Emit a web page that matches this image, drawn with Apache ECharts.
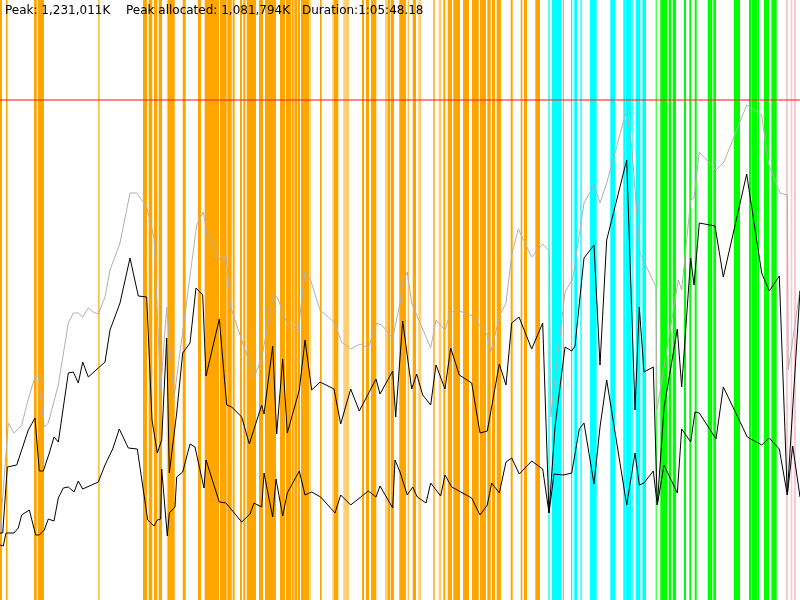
<!DOCTYPE html>
<html><head><meta charset="utf-8">
<script src="https://cdn.jsdelivr.net/npm/echarts@6/dist/echarts.min.js"></script>
<style>html,body{margin:0;padding:0;background:#fff}#c{width:800px;height:600px}</style>
</head><body><div id="c"></div>
<script>
// time in sample units (0..800), memory in scaled units (0..600)
const timeMax = 800;
const memMax = 600;
const limitLevel = 500;
const titleTexts = ["Peak: 1,231,011K", "Peak allocated: 1,081,794K", "Duration:1:05:48.18"];

const orangeBands = [[0,2],[6,7.5],[34,36.7],[37.7,44],[98.3,99.5],[143,147],[148.7,152.3],[154,157.3],[158.7,162],[168,174.7],[182.7,185.7],[198,201],[204.7,219],[220,226.7],[227.3,231.7],[232.7,234.7],[240,242],[243.3,245.3],[246.7,256],[259,263],[265,276],[280,285],[286,291],[291.7,293.7],[294.3,297],[297.7,300],[301,309],[309.7,310.5],[320,321.7],[334,338.3],[362,364],[366,369],[371,376.3],[388,390.3],[391,394],[399.3,406],[407.7,408.7],[412.7,416],[433.3,434.7],[443.3,445.3],[447.7,452],[453.3,460],[463,469],[472,478.7],[480,486],[487.3,490.7],[492,495],[496.7,501],[510.7,512.7],[520.7,522.3],[524,527],[535.3,540]];
const lightOrangeBands = [[166.7,168],[332.3,334],[343.3,349],[385,388],[418.3,421.3],[438.7,441.3]];
const cyanBands = [[548.3,549.7],[551.7,561.7],[563,564],[571,572.3],[574.3,577],[580.3,581.7],[590,596.7],[610.3,615],[623.3,625],[625.7,631],[631.7,632.7],[635.7,640.3],[642.3,646]];
const greenBands = [[655.7,656.7],[660.3,667.3],[668.7,671.3],[672.7,676],[684,686],[689.3,691.3],[694.7,696.7],[707.7,712.3],[713.3,716],[734,740],[749,751],[751.7,757.3],[758,759],[764,769],[771.3,776.7]];
const pinkBands = [[786,788],[790.7,792.3],[794,796]];

const grayMem = [[0,67],[8.3,177],[14,167],[18.3,171],[21.7,175],[28,200],[35,223],[38.3,224],[44.3,173],[48.3,177],[58.3,215],[68.3,277],[73.3,287],[78.3,287],[82.7,283],[88.3,292],[93.3,288],[98.3,286],[105,303],[110,330],[120,357],[130,407],[136.7,407],[146.7,393],[154,362],[160.7,210],[166.7,293],[174,202],[196.7,375],[203.3,388],[206.7,368],[220,340],[226,344],[230.7,293],[241.7,260],[254.3,223],[261.7,242],[273.3,305],[277.3,303],[286.7,277],[298.3,270],[305,328],[310,322],[320,290],[334,278],[341.7,258],[350.7,251],[360,256],[368.3,252],[376.7,277],[381.7,275],[392.7,262],[400,297],[402.7,318],[407.3,328],[411.7,297],[430.7,252],[436,280],[445,270],[450.7,288],[459.3,289],[472.7,284],[487.3,265],[490.7,248],[500,285],[506,297],[511.7,345],[518.3,371],[531.7,343],[542.7,356],[549.3,349],[550.7,183],[565,308],[572.7,321],[584,397],[594,415],[600,397],[606.7,417],[626.7,490],[631.7,453],[640,347],[656,313],[657,190],[678.3,320],[681.7,310],[690.7,400],[694,402],[699.3,448],[716,430],[724,438],[746.7,495],[761.7,485],[768.3,437],[780,407],[787.3,405],[788.3,230],[800,310]];

const allocMem = [[0,67],[2.7,67],[7.3,133],[16.7,135],[28.3,170],[35,182],[39.3,129],[43.3,129],[49.3,147],[54,163],[58.3,158],[68.3,227],[73.3,228],[78.3,217],[82.7,238],[88.3,223],[98.3,232],[105,238],[110,270],[120,297],[130,342],[138.3,304],[146.7,303],[152,180],[157.3,147],[161.7,160],[166.7,262],[169.3,127],[176.7,187],[182.7,247],[190,257],[196,312],[202.7,305],[206,224],[219.3,281],[226.7,195],[231.7,193],[241.7,183],[249.3,156],[261.7,195],[264,186],[272.7,254],[276.7,166],[282.7,241],[287.3,167],[299.3,210],[305,260],[311.7,210],[320,218],[334,211],[340.7,176],[350.7,211],[359.3,189],[376,221],[380,206],[392.7,229],[395.7,183],[402.7,279],[411.7,211],[416.7,226],[422.7,205],[430.7,195],[436,235],[445,211],[450.7,252],[459.3,225],[471.7,217],[480,167],[487.3,169],[499.3,236],[506,215],[511.7,277],[519,283],[531.7,251],[542.7,277],[549,87],[555,173],[565,253],[571.7,249],[575,254],[584,342],[594,355],[600,235],[606.7,360],[626.7,440],[635,190],[639.3,293],[644,228],[653.3,233],[657.3,95],[664,192],[677.3,271],[681.7,213],[690.7,342],[694,315],[699.3,377],[715,374],[723.3,323],[746.7,426],[761.7,327],[769.3,309],[779.3,324],[787.3,105],[800,309]];

const liveMem = [[0,55],[3.3,54],[6,67],[14,67],[18.3,72],[21.7,85],[29.3,90],[35.7,65],[39.3,65],[44.3,70],[48.3,81],[54,79],[58.3,102],[63.3,112],[68.3,113],[74,108],[78.3,119],[82.7,111],[98.3,118],[105,135],[112.7,151],[119.3,171],[128.3,152],[137.3,151],[147.7,80],[154,74],[157.3,80],[160.7,81],[161.7,131],[167.3,64],[169.3,87],[175,93],[176.7,123],[182.7,128],[190,156],[195,153],[200,130],[204,112],[206,140],[219.3,98],[226,97],[241.7,78],[250,86],[254,97],[261.7,93],[264,127],[272.7,83],[276,121],[282.7,84],[287.3,107],[299.3,129],[305,105],[311.7,108],[320.7,103],[335,87],[340.7,105],[350.7,95],[368.3,109],[376,103],[380,114],[392.7,92],[395,140],[400,128],[407.3,105],[412.7,113],[417.3,103],[426,97],[430.7,117],[440.7,104],[445,125],[451.7,113],[471.7,102],[480,85],[487.3,95],[491.7,117],[499.3,107],[506,138],[511.7,142],[519.3,126],[531.7,139],[542.7,131],[549,87],[554,126],[563.3,125],[571.7,127],[579.3,171],[584,177],[594,116],[600,173],[606.7,220],[626.7,95],[635,147],[639.3,115],[644,117],[653.3,129],[657.3,95],[664,135],[677.3,107],[681.7,171],[690.7,158],[695,188],[699.3,187],[716,161],[723.3,213],[747.3,163],[761.7,155],[769.3,162],[779.3,151],[787.3,105],[792.7,154],[800,103]];

function bandSeries(data, color) {
  return {
    type: 'custom', silent: true, z: 1,
    data: data,
    renderItem: function (params, api) {
      const p0 = api.coord([api.value(0), memMax]);
      const p1 = api.coord([api.value(1), 0]);
      return { type: 'rect', shape: { x: p0[0], y: p0[1], width: p1[0] - p0[0], height: p1[1] - p0[1] }, style: { fill: color } };
    },
    encode: { x: [0, 1] }
  };
}
function lineSeries(data, color) {
  return { type: 'line', data: data, symbol: 'none', smooth: false, z: 5, silent: true,
    lineStyle: { color: color, width: 1 } };
}
const chart = echarts.init(document.getElementById('c'), null, { renderer: 'canvas' });
chart.setOption({
  animation: false,
  backgroundColor: '#ffffff',
  title: [
    { text: titleTexts[0], left: 5, top: 5 },
    { text: titleTexts[1], left: 126, top: 5 },
    { text: titleTexts[2], left: 302, top: 5 }
  ].map(t => Object.assign(t, { padding: 0, textStyle: { fontSize: 12, fontWeight: 'normal', color: '#000', fontFamily: 'DejaVu Sans' } })),
  grid: { left: 0, right: 0, top: 0, bottom: 0 },
  xAxis: { type: 'value', min: 0, max: timeMax, show: false },
  yAxis: { type: 'value', min: 0, max: memMax, show: false },
  series: [
    bandSeries(orangeBands, '#FFA500'),
    bandSeries(lightOrangeBands, 'rgba(255,165,0,0.55)'),
    bandSeries(cyanBands, '#00FFFF'),
    bandSeries(greenBands, '#00FF00'),
    bandSeries(pinkBands, '#FFC8D0'),
    {
      type: 'line', data: [], z: 6, silent: true,
      markLine: { silent: true, symbol: 'none', label: { show: false },
        lineStyle: { color: 'rgba(255,40,40,0.75)', width: 1.5, type: 'solid' },
        data: [{ yAxis: limitLevel }] }
    },
    lineSeries(grayMem, '#B0B0B0'),
    lineSeries(allocMem, '#000000'),
    lineSeries(liveMem, '#000000')
  ]
});
</script></body></html>
